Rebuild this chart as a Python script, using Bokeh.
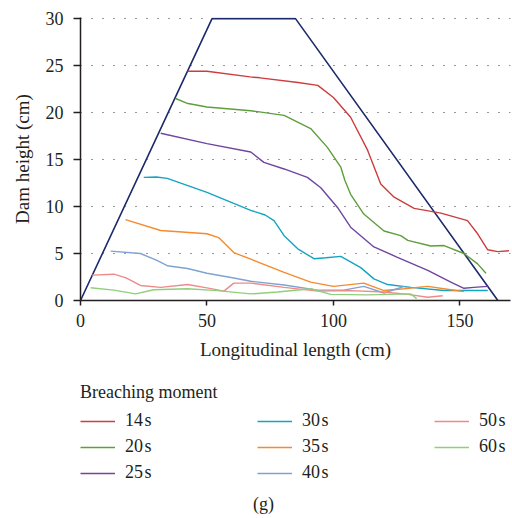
from bokeh.plotting import figure
from bokeh.models import Legend, LegendItem, Label, FixedTicker, Range1d
from bokeh.layouts import column
from bokeh.embed import file_html
from bokeh.resources import INLINE

# Dam outline
dam_x = [0, 52, 85, 165]
dam_y = [0, 30, 30, 0]

# Breaching profiles
x14 = [42.3, 50, 67, 71, 86, 93.8, 100, 106.8, 113.5, 118.7, 124, 131.9, 142.5, 153, 157, 161, 165, 169.4]
y14 = [24.4, 24.4, 23.8, 23.7, 23.2, 22.9, 21.6, 19.5, 16.0, 12.4, 11.0, 9.8, 9.3, 8.5, 7.1, 5.4, 5.2, 5.3]

x20 = [37.6, 42, 50, 67.3, 80.5, 91, 97.6, 102.9, 104.5, 106.8, 112, 120, 126.6, 129.4, 138.5, 143.7, 151.6, 157, 160.3]
y20 = [21.5, 21.0, 20.6, 20.2, 19.7, 18.3, 16.3, 14.2, 12.8, 11.3, 9.2, 7.4, 6.9, 6.4, 5.8, 5.85, 5.0, 3.9, 2.9]

x25 = [31.7, 50, 67.3, 72.5, 80.5, 89.7, 95, 101.6, 106.8, 116, 125.3, 137.3, 146.4, 151.6, 155.5, 161]
y25 = [17.8, 16.7, 15.8, 14.7, 14.0, 13.1, 12.0, 9.9, 7.8, 5.7, 4.6, 3.2, 1.95, 1.3, 1.4, 1.5]

x30 = [25, 30, 34.3, 50, 67.3, 73, 76.5, 80.5, 85.9, 92.3, 97, 102.9, 110.8, 116, 121.4, 130.6, 143.7, 161]
y30 = [13.1, 13.15, 13.0, 11.5, 9.6, 9.1, 8.5, 6.9, 5.5, 4.45, 4.55, 4.7, 3.5, 2.3, 1.7, 1.4, 1.06, 1.06]

x35 = [17.8, 31.7, 50, 54.6, 60.6, 67.3, 80.5, 91, 100, 112, 120, 127.9, 137.3, 146.4, 151.6]
y35 = [8.6, 7.45, 7.1, 6.7, 5.1, 4.4, 3.0, 1.95, 1.5, 1.85, 1.06, 1.25, 1.5, 1.15, 0.95]

x40 = [11.9, 23.7, 30, 34.3, 42.3, 50, 60.6, 67.3, 80.5, 93.8, 104, 112, 120, 128]
y40 = [5.25, 5.0, 4.3, 3.7, 3.4, 2.9, 2.4, 2.05, 1.65, 1.1, 1.1, 1.5, 0.8, 1.5]

x50 = [4.6, 13.2, 18, 23.7, 31.7, 42.3, 50, 56.7, 60.6, 67.3, 80.5, 93.8, 106.8, 120, 129.4, 137.3, 143.2]
y50 = [2.7, 2.8, 2.4, 1.6, 1.4, 1.7, 1.35, 1.0, 1.85, 1.85, 1.4, 1.0, 1.05, 0.9, 0.65, 0.35, 0.5]

x60 = [4.0, 13.2, 21.8, 29, 42.3, 54.2, 67.3, 77.9, 91, 99, 113.5, 130.6, 132.9]
y60 = [1.35, 1.1, 0.7, 1.15, 1.25, 1.05, 0.7, 0.9, 1.25, 0.65, 0.6, 0.7, 0.2]

labels = ["14\u200as", "20\u200as", "25\u200as", "30\u200as", "35\u200as", "40\u200as", "50\u200as", "60\u200as"]
colors = ["#cc3d3d", "#5e9e3c", "#6f45a0", "#13a5bf", "#f68a2e", "#7fa3d1", "#ee8a8a", "#8fcf7c"]
series = [(x14, y14), (x20, y20), (x25, y25), (x30, y30), (x35, y35), (x40, y40), (x50, y50), (x60, y60)]

FONT = "Liberation Serif"
TXT = "#231f20"
FS = "18px"

p = figure(width=512, height=370, output_backend="svg", toolbar_location=None,
           x_range=Range1d(0, 170), y_range=Range1d(0, 30.12),
           min_border_left=80, min_border_right=2, min_border_top=17, min_border_bottom=70)
p.outline_line_color = None
p.xgrid.visible = False
p.ygrid.grid_line_color = "#333333"
p.ygrid.grid_line_dash = "1 10"
p.ygrid.grid_line_width = 1.2

p.xaxis.ticker = FixedTicker(ticks=[0, 50, 100, 150])
p.yaxis.ticker = FixedTicker(ticks=[0, 5, 10, 15, 20, 25, 30])
for ax in (p.xaxis[0], p.yaxis[0]):
    ax.major_label_text_font = FONT
    ax.major_label_text_font_size = FS
    ax.major_label_text_color = TXT
    ax.axis_label_text_font = FONT
    ax.axis_label_text_font_size = "19px"
    ax.axis_label_text_font_style = "normal"
    ax.axis_label_text_color = TXT
    ax.axis_line_color = "#231f20"
    ax.axis_line_width = 1.5
    ax.major_tick_line_color = "#231f20"
    ax.major_tick_line_width = 1.5
    ax.major_tick_in = 0
    ax.minor_tick_line_color = None
p.xaxis.major_tick_out = 5
p.yaxis.major_tick_out = 7
p.xaxis.axis_label = "Longitudinal length (cm)"
p.yaxis.axis_label = "Dam height (cm)"
p.xaxis.major_label_standoff = 8
p.xaxis.axis_label_standoff = 9
p.yaxis.major_label_standoff = 10
p.yaxis.axis_label_standoff = 10

p.line(dam_x, dam_y, line_color="#1b2a6b", line_width=1.6)
for (xs, ys), c in zip(series, colors):
    p.line(xs, ys, line_color=c, line_width=1.4)

# Legend panel
q = figure(width=512, height=148, output_backend="svg", toolbar_location=None,
           x_range=Range1d(0, 1), y_range=Range1d(0, 1),
           min_border_left=0, min_border_right=0, min_border_top=0, min_border_bottom=0)
q.outline_line_color = None
q.axis.visible = False
q.grid.visible = False

leg_renderers = [q.line([-5, -4], [-5, -4], line_color=c, line_width=1.6) for c in colors]
items = [LegendItem(label=l, renderers=[r]) for l, r in zip(labels, leg_renderers)]
legend = Legend(items=items, nrows=3, orientation="vertical", location=(0, 35),
                title="Breaching moment", title_text_font=FONT, title_text_font_size=FS,
                title_text_color=TXT, title_standoff=7, title_text_font_style="normal",
                label_text_font=FONT, label_text_font_size=FS, label_text_color=TXT,
                glyph_width=35, glyph_height=20, label_standoff=10, label_width=127,
                spacing=5, padding=0, margin=0, border_line_color=None,
                background_fill_alpha=0)
q.add_layout(legend, "center")

q.add_layout(Label(x=183, y=15, x_units="screen", y_units="screen", text="(g)",
                   text_font=FONT, text_font_size=FS, text_color=TXT,
                   text_align="center", text_baseline="middle"))

open("out.html", "w").write(file_html(column(p, q, spacing=0), INLINE))
